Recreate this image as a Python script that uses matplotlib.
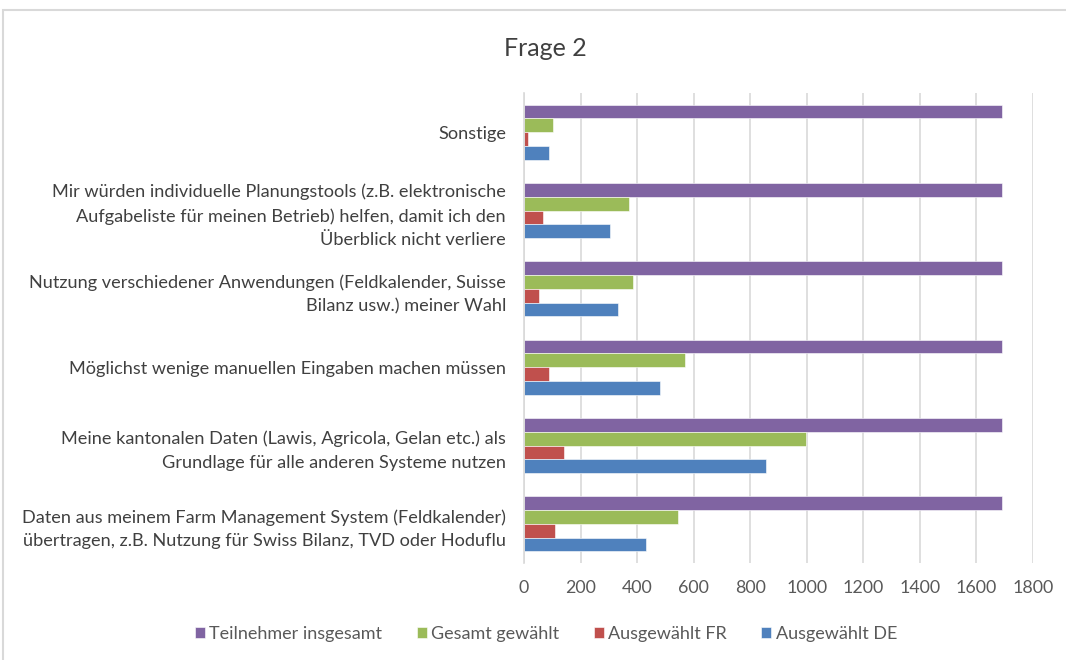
import matplotlib.pyplot as plt
import numpy as np
from matplotlib.patches import Rectangle

plt.rcParams['font.family'] = ['Lato', 'DejaVu Sans']

# categories, bottom to top
categories = [
    "Daten aus meinem Farm Management System (Feldkalender)\nübertragen, z.B. Nutzung für Swiss Bilanz, TVD oder Hoduflu",
    "Meine kantonalen Daten (Lawis, Agricola, Gelan etc.) als\nGrundlage für alle anderen Systeme nutzen",
    "Möglichst wenige manuellen Eingaben machen müssen",
    "Nutzung verschiedener Anwendungen (Feldkalender, Suisse\nBilanz usw.) meiner Wahl",
    "Mir würden individuelle Planungstools (z.B. elektronische\nAufgabeliste für meinen Betrieb) helfen, damit ich den\nÜberblick nicht verliere",
    "Sonstige",
]
teilnehmer = [1690, 1690, 1690, 1690, 1690, 1690]
gesamt = [546, 996, 568, 385, 373, 103]
ausg_fr = [110, 141, 88, 53, 67, 15]
ausg_de = [433, 856, 480, 333, 304, 89]

series = [
    ("Teilnehmer insgesamt", teilnehmer, "#8064A2"),
    ("Gesamt gewählt", gesamt, "#9BBB59"),
    ("Ausgewählt FR", ausg_fr, "#C0504D"),
    ("Ausgewählt DE", ausg_de, "#4F81BD"),
]

fig = plt.figure(figsize=(10.66, 6.6), dpi=100)
ax = fig.add_axes([524 / 1066, 1 - 563 / 660, (1033 - 524) / 1066, (563 - 93) / 660])

# Excel chart frame
fig.patches.append(Rectangle((3 / 1066, -0.1), 1.2, 1 - 10 / 660 + 0.1,
                             transform=fig.transFigure, fill=False,
                             edgecolor="#d9d9d9", linewidth=1.5))

y = np.arange(len(categories))
h = 0.175
offsets = [1.5 * h, 0.5 * h, -0.5 * h, -1.5 * h]
for (name, vals, col), off in zip(series, offsets):
    ax.barh(y + off, vals, height=h, color=col, label=name,
            edgecolor="white", linewidth=0.4)

ax.set_xlim(0, 1800)
ax.set_ylim(-0.5, len(categories) - 0.5)
ax.set_xticks(np.arange(0, 1801, 200))
ax.set_yticks(y)
ax.set_yticklabels(categories, fontsize=13.1, color="#404040", linespacing=1.6)
ax.tick_params(axis="x", labelsize=12.8, colors="#595959", length=0, pad=12)
ax.tick_params(axis="y", length=0, pad=13)
ax.grid(axis="x", color="#d9d9d9", linewidth=1.2)
ax.set_axisbelow(True)
for s in ["top", "right", "bottom"]:
    ax.spines[s].set_visible(False)
ax.spines["left"].set_color("#d9d9d9")
ax.spines["left"].set_linewidth(1.2)

fig.text(545 / 1066, 1 - 48 / 660, "Frage 2", fontsize=18, color="#404040",
         ha="center", va="center")

fig.legend(loc="center", bbox_to_anchor=(546 / 1066, 1 - 634 / 660), ncol=4,
           frameon=False, fontsize=13, handlelength=0.55, handleheight=0.55,
           handletextpad=0.25, columnspacing=1.9, labelcolor="#595959")

fig.savefig("out.png", dpi=100)
